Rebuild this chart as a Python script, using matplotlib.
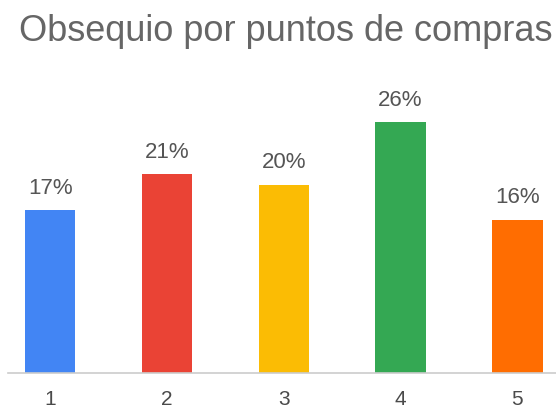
import numpy as np
import matplotlib.pyplot as plt

plt.rcParams['font.family'] = ['Liberation Sans', 'DejaVu Sans']

# datos
categorias = ['1', '2', '3', '4', '5']
valores = [16.9, 20.6, 19.5, 26.0, 15.9]
colores = ['#4285F4', '#EA4335', '#FBBC04', '#34A853', '#FF6D01']

fig = plt.figure(figsize=(5.56, 4.12), dpi=100)
ax = fig.add_axes([0.0144, 0.095, 0.9856, 0.66])

x = np.arange(len(categorias))
ax.bar(x, valores, width=0.43, color=colores, zorder=2)
for xi, v in zip(x, valores):
    ax.text(xi, v + 1.7, f'{round(v)}%', ha='center', va='baseline',
            fontsize=16, color='#555555')

ax.set_xlim(-0.36, 4.33)
ax.set_ylim(0, 28.2)
ax.set_xticks(x)
ax.set_xticklabels(categorias, fontsize=15, color='#4a4a4a')
ax.tick_params(axis='x', length=0, pad=12)
ax.set_yticks([])
for s in ['top', 'right', 'left']:
    ax.spines[s].set_visible(False)
ax.spines['bottom'].set_color('#cccccc')
ax.spines['bottom'].set_linewidth(1.2)

fig.text(0.035, 0.901, 'Obsequio por puntos de compras', fontsize=26,
         color='#666666', ha='left', va='baseline')

fig.savefig('out.png', dpi=100)
